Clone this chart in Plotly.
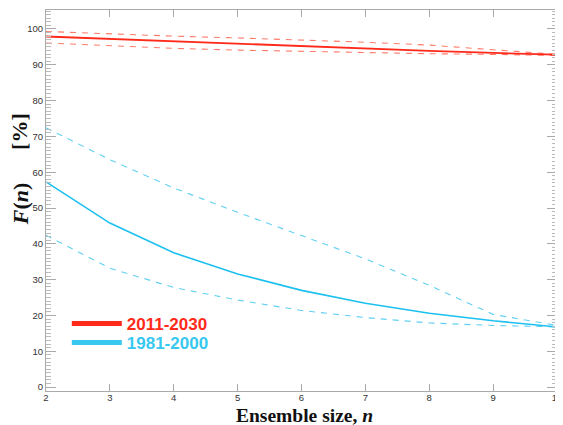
import plotly.graph_objects as go

n = [2, 3, 4, 5, 6, 7, 8, 9, 10]

red_mean = [97.9, 97.2, 96.5, 95.8, 95.1, 94.5, 93.9, 93.3, 92.8]
red_upper = [99.3, 98.6, 98.0, 97.5, 97.0, 96.3, 95.5, 94.3, 92.9]
red_lower = [96.1, 95.3, 94.6, 94.1, 93.7, 93.4, 93.1, 92.9, 92.6]

blue_mean = [57.3, 45.8, 37.5, 31.6, 27.0, 23.4, 20.6, 18.5, 16.8]
blue_upper = [72.4, 63.5, 55.6, 48.8, 42.3, 35.8, 28.4, 20.3, 17.2]
blue_lower = [42.4, 33.2, 27.8, 24.3, 21.4, 19.4, 17.9, 17.2, 16.8]

yticks = [0, 10, 20, 30, 40, 50, 60, 70, 80, 90, 100]
xticks = [2, 3, 4, 5, 6, 7, 8, 9, 10]

RED = "#ff2a1a"
RED_D = "#ff7a6a"
BLUE = "#1cc0f0"
BLUE_D = "#60d0f2"
LEG_BLUE = "#38c8ef"

fig = go.Figure()
for ys, col, dash, w in [
    (blue_upper, BLUE_D, "dash", 1.1),
    (blue_lower, BLUE_D, "dash", 1.1),
    (blue_mean, BLUE, "solid", 1.6),
    (red_upper, RED_D, "dash", 1.1),
    (red_lower, RED_D, "dash", 1.1),
    (red_mean, RED, "solid", 1.8),
]:
    fig.add_trace(go.Scatter(x=n, y=ys, mode="lines", showlegend=False,
                             line=dict(color=col, width=w, dash="6px,6px" if dash == "dash" else "solid")))

fig.add_trace(go.Scatter(x=[None], y=[None], mode="lines", name="2011-2030", legend="legend",
                         line=dict(color=RED, width=5)))
fig.add_trace(go.Scatter(x=[None], y=[None], mode="lines", name="1981-2000", legend="legend2",
                         line=dict(color=LEG_BLUE, width=5)))

axis_common = dict(showline=True, linecolor="#aaaaaa", linewidth=1, mirror="allticks",
                   ticks="inside", tickcolor="#aaaaaa", showgrid=False, zeroline=False,
                   automargin=False,
                   tickfont=dict(family="Liberation Sans", size=9.5, color="#333333"))

fig.update_xaxes(range=[2, 10], tickvals=xticks, ticklen=7, ticklabelstandoff=-2, **axis_common)
fig.update_yaxes(range=[-1.1, 105.3], tickvals=yticks, ticklen=10,
                 minor=dict(dtick=1, ticks="inside", ticklen=5, tickcolor="#bbbbbb"),
                 **axis_common)

fig.add_annotation(text="<b>Ensemble size, <i>n</i></b>", xref="paper", yref="paper", x=0.505, y=0,
                   yanchor="middle", yshift=-24, showarrow=False,
                   font=dict(family="Liberation Serif", size=19.5, color="#111111"))
fig.add_annotation(text="<b>[%]</b>", xref="paper", yref="paper", x=0, xshift=-26,
                   y=0.68, textangle=-90, showarrow=False, xanchor="center", yanchor="middle",
                   font=dict(family="Liberation Serif", size=22, color="#111111"))
fig.add_annotation(text="<b><i>F</i>(<i>n</i>)</b>", xref="paper", yref="paper", x=0, xshift=-26,
                   y=0.49, textangle=-90, showarrow=False, xanchor="center", yanchor="middle",
                   font=dict(family="Liberation Serif", size=22, color="#111111"))

leg_common = dict(x=0.0407, xanchor="left", yanchor="middle", bgcolor="rgba(0,0,0,0)", itemwidth=50)

fig.update_layout(
    width=555, height=417,
    margin=dict(l=38, r=6, t=2, b=34),
    paper_bgcolor="white", plot_bgcolor="white",
    legend=dict(y=0.176, font=dict(family="Liberation Sans", size=17, weight="bold", color=RED), **leg_common),
    legend2=dict(y=0.126, font=dict(family="Liberation Sans", size=17, weight="bold", color=LEG_BLUE), **leg_common),
)

fig.write_html("out.html")
